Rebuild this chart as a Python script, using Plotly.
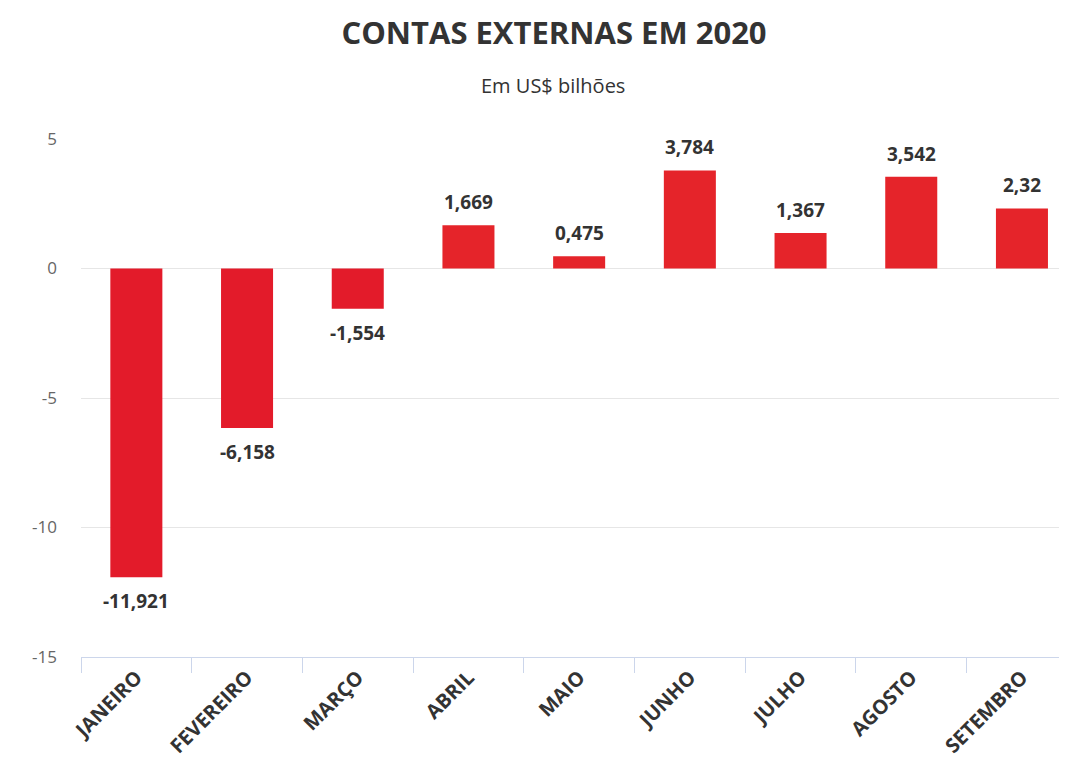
import plotly.graph_objects as go

months = ["JANEIRO", "FEVEREIRO", "MARÇO", "ABRIL", "MAIO", "JUNHO", "JULHO", "AGOSTO", "SETEMBRO"]
values = [-11.921, -6.158, -1.554, 1.669, 0.475, 3.784, 1.367, 3.542, 2.32]
y_ticks = [-15, -10, -5, 0, 5]

labels = [str(v).replace(".", ",") for v in values]
colors = ["#E31B2A" if v < 0 else "#E5242A" for v in values]
y_tick_text = [str(t) for t in y_ticks]

W, H = 1067, 760
FONT = "Open Sans"
OFF = 8  # page body offset
L, R, T, B = 81 - OFF, 10, 139 - OFF, H - (657 - OFF)
PH = H - T - B
PW = W - L - R

fig = go.Figure(go.Bar(
    x=months, y=values,
    marker=dict(color=colors, line=dict(width=0)),
    width=0.47,
    hoverinfo="x+y",
))

annotations = []
for m, v, s in zip(months, values, labels):
    annotations.append(dict(
        x=m, y=v, xref="x", yref="y", text=f"<b>{s}</b>", showarrow=False,
        xanchor="center", yanchor="middle", yshift=23 if v >= 0 else -24,
        font=dict(family=FONT, size=19, color="#333333"),
    ))

annotations.append(dict(
    text="Em US$ bilhões", xref="paper", yref="paper",
    x=(553 - OFF - L) / PW, y=1 + (T - (85 - OFF)) / PH,
    xanchor="center", yanchor="middle", showarrow=False,
    font=dict(family=FONT, size=20, color="#333333"),
))

fig.update_layout(
    width=W, height=H,
    paper_bgcolor="white", plot_bgcolor="white",
    margin=dict(l=L, r=R, t=T, b=B),
    showlegend=False,
    font=dict(family=FONT, color="#333333"),
    title=dict(
        text="<b>CONTAS EXTERNAS EM 2020</b>",
        x=(554 - OFF) / W, xref="container", xanchor="center",
        y=1 - (33 - OFF) / H, yref="container", yanchor="middle",
        font=dict(family=FONT, size=31, color="#333333"),
    ),
    annotations=annotations,
    xaxis=dict(
        type="category", automargin=False,
        range=[-0.5, -0.5 + PW / 110.7],
        showgrid=False, zeroline=False,
        showline=True, linecolor="#ccd6eb", linewidth=1,
        ticks="outside", tickson="boundaries", ticklen=15, tickcolor="#ccd6eb", tickwidth=1,
        tickangle=-45,
        tickfont=dict(family=FONT, size=20, color="#333333", weight="bold"),
    ),
    yaxis=dict(
        automargin=False,
        range=[-15, 5], tickvals=y_ticks, ticktext=y_tick_text,
        showgrid=True, gridcolor="#e6e6e6", gridwidth=1,
        zeroline=True, zerolinecolor="#e6e6e6", zerolinewidth=1,
        showline=False, ticks="",
        ticklabelstandoff=23,
        tickfont=dict(family=FONT, size=17, color="#666666"),
    ),
)

fig.write_html("out.html")
